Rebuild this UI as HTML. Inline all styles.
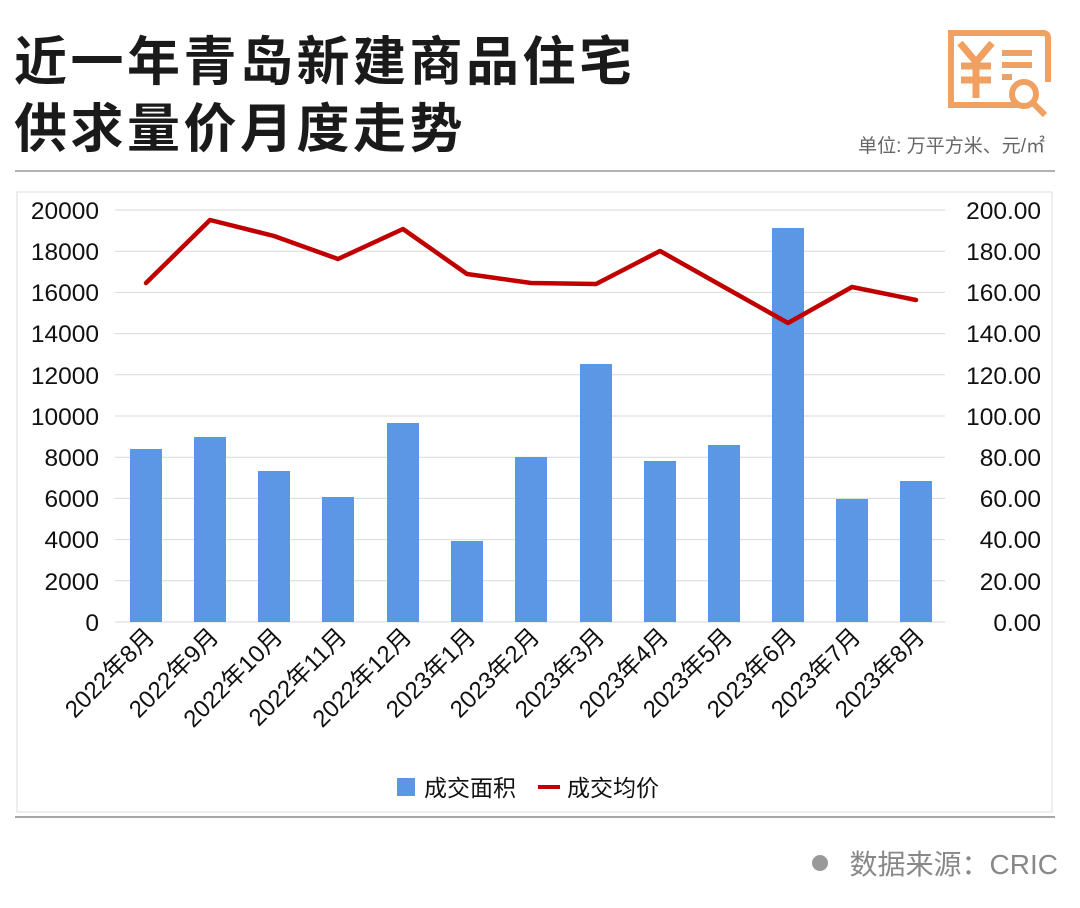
<!DOCTYPE html>
<html><head><meta charset="utf-8"><style>
body{margin:0;width:1080px;height:903px;background:#fff;overflow:hidden;font-family:"Liberation Sans","Noto Sans CJK SC",sans-serif}
</style></head><body>
<svg width="1080" height="903" xmlns="http://www.w3.org/2000/svg" font-family="Liberation Sans, Noto Sans CJK SC, sans-serif">
<text x="14" y="80" font-size="53" font-weight="bold" fill="#1a1a1a" letter-spacing="3.5" font-family="Noto Sans CJK SC, sans-serif">近一年青岛新建商品住宅</text>
<text x="14" y="147" font-size="53" font-weight="bold" fill="#1a1a1a" letter-spacing="3.5" font-family="Noto Sans CJK SC, sans-serif">供求量价月度走势</text>
<g stroke="#f0a060" fill="none" stroke-width="6">
<path d="M990 33 H1043 Q1048 33 1048 38 V82 M1020 105 H951 V33 H995"/>
<circle cx="1024" cy="94" r="12"/>
<line x1="1033" y1="103" x2="1045" y2="115"/>
<line x1="1002" y1="53" x2="1032" y2="53"/><line x1="1002" y1="65" x2="1032" y2="65"/><line x1="1002" y1="77" x2="1012" y2="77"/>
<path d="M960 43 L976 62 L992 43 M976 62 V98 M961 66 H991 M961 80 H991" stroke-width="7"/>
</g>
<text x="1045" y="152" font-size="19" fill="#666" text-anchor="end">单位: 万平方米、元/㎡</text>
<line x1="15" y1="171" x2="1055" y2="171" stroke="#999" stroke-width="1.5"/>
<rect x="17" y="192" width="1035" height="620" fill="none" stroke="#ddd"/>
<g stroke="#d9d9d9" stroke-width="1">
<line x1="115" x2="945" y1="210" y2="210"/><line x1="115" x2="945" y1="251.2" y2="251.2"/><line x1="115" x2="945" y1="292.4" y2="292.4"/><line x1="115" x2="945" y1="333.6" y2="333.6"/><line x1="115" x2="945" y1="374.8" y2="374.8"/><line x1="115" x2="945" y1="416" y2="416"/><line x1="115" x2="945" y1="457.2" y2="457.2"/><line x1="115" x2="945" y1="498.4" y2="498.4"/><line x1="115" x2="945" y1="539.6" y2="539.6"/><line x1="115" x2="945" y1="580.8" y2="580.8"/><line x1="115" x2="945" y1="622" y2="622"/>
</g>
<g font-size="24.5" fill="#111" text-anchor="end">
<text x="99" y="219">20000</text><text x="99" y="260">18000</text><text x="99" y="301">16000</text><text x="99" y="342">14000</text><text x="99" y="384">12000</text><text x="99" y="425">10000</text><text x="99" y="466">8000</text><text x="99" y="507">6000</text><text x="99" y="548">4000</text><text x="99" y="590">2000</text><text x="99" y="631">0</text>
</g>
<g font-size="24.5" fill="#111" text-anchor="end">
<text x="1041" y="219">200.00</text><text x="1041" y="260">180.00</text><text x="1041" y="301">160.00</text><text x="1041" y="342">140.00</text><text x="1041" y="384">120.00</text><text x="1041" y="425">100.00</text><text x="1041" y="466">80.00</text><text x="1041" y="507">60.00</text><text x="1041" y="548">40.00</text><text x="1041" y="590">20.00</text><text x="1041" y="631">0.00</text>
</g>
<g fill="#5b97e4">
<rect x="130" y="449" width="32" height="173"/>
<rect x="194" y="437" width="32" height="185"/>
<rect x="258" y="471" width="32" height="151"/>
<rect x="322" y="497" width="32" height="125"/>
<rect x="387" y="423" width="32" height="199"/>
<rect x="451" y="541" width="32" height="81"/>
<rect x="515" y="457" width="32" height="165"/>
<rect x="580" y="364" width="32" height="258"/>
<rect x="644" y="461" width="32" height="161"/>
<rect x="708" y="445" width="32" height="177"/>
<rect x="772" y="228" width="32" height="394"/>
<rect x="836" y="499" width="32" height="123"/>
<rect x="900" y="481" width="32" height="141"/>
</g>
<polyline fill="none" stroke="#c00000" stroke-width="4.5" stroke-linejoin="round" stroke-linecap="round" points="146,283 210,220 274,236 338,259 403,229 467,274 531,283 596,284 660,251 724,287 788,323 852,287 916,300"/>
<g font-size="24" fill="#111" text-anchor="end">
<text transform="translate(156,638) rotate(-45)">2022年8月</text>
<text transform="translate(220,638) rotate(-45)">2022年9月</text>
<text transform="translate(284,638) rotate(-45)">2022年10月</text>
<text transform="translate(348,638) rotate(-45)">2022年11月</text>
<text transform="translate(413,638) rotate(-45)">2022年12月</text>
<text transform="translate(477,638) rotate(-45)">2023年1月</text>
<text transform="translate(541,638) rotate(-45)">2023年2月</text>
<text transform="translate(606,638) rotate(-45)">2023年3月</text>
<text transform="translate(670,638) rotate(-45)">2023年4月</text>
<text transform="translate(734,638) rotate(-45)">2023年5月</text>
<text transform="translate(798,638) rotate(-45)">2023年6月</text>
<text transform="translate(862,638) rotate(-45)">2023年7月</text>
<text transform="translate(926,638) rotate(-45)">2023年8月</text>
</g>
<rect x="397" y="778" width="18" height="18" fill="#5b97e4"/>
<text x="424" y="796" font-size="23" fill="#111">成交面积</text>
<line x1="538" y1="787" x2="560" y2="787" stroke="#c00000" stroke-width="4"/>
<text x="567" y="796" font-size="23" fill="#111">成交均价</text>
<line x1="15" y1="817" x2="1055" y2="817" stroke="#888" stroke-width="1.5"/>
<circle cx="820" cy="863" r="8" fill="#999"/>
<text x="1058" y="874" font-size="28" fill="#888" text-anchor="end">数据来源：CRIC</text>
</svg>
</body></html>
